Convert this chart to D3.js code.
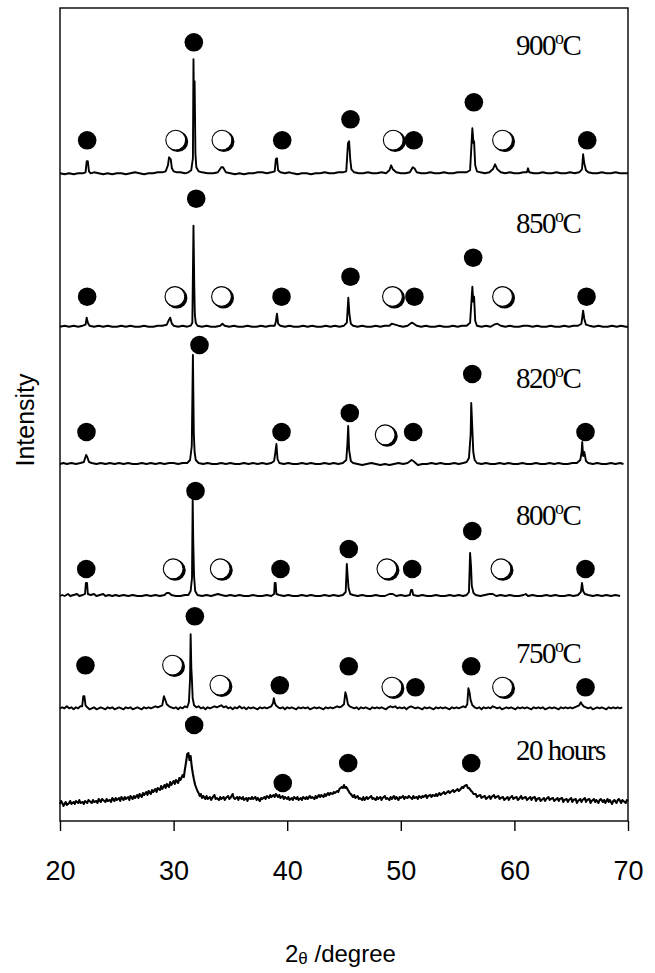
<!DOCTYPE html>
<html>
<head>
<meta charset="utf-8">
<script src="https://cdn.jsdelivr.net/npm/d3@7"></script>
<style>
  html, body { margin: 0; padding: 0; background: #fff; }
  svg { display: block; }
</style>
</head>
<body>
<svg id="chart" width="655" height="973"></svg>
<script>
// XRD patterns, intensity in arbitrary units above each pattern's baseline
const scan900 = [[20,0],[20.4,-1],[20.8,0],[21.2,-1],[21.6,0],[22.0,0],[22.25,1],[22.35,12],[22.45,12],[22.55,2],[22.7,0],[23.0,1],[23.4,0],[23.8,-1],[24.2,0],[24.6,-1],[25.0,0],[25.4,0],[25.8,-1],[26.2,0],[26.6,1],[27.0,0],[27.4,-1],[27.8,0],[28.2,0],[28.6,1],[29.0,1],[29.3,2],[29.5,8],[29.6,16],[29.75,14],[29.85,5],[30.0,2],[30.3,1],[30.6,1],[31.0,0],[31.3,1],[31.55,3],[31.7,15],[31.75,114],[31.8,60],[31.85,92],[31.92,20],[32.0,6],[32.2,2],[32.5,1],[33.0,0],[33.5,0],[33.9,1],[34.2,6],[34.35,6],[34.6,1],[35.0,0],[35.4,-1],[35.8,0],[36.2,-1],[36.6,0],[37.0,0],[37.4,1],[37.8,1],[38.2,0],[38.6,1],[38.9,2],[39.0,14],[39.1,15],[39.2,3],[39.4,1],[39.8,0],[40.2,1],[40.5,0],[40.9,-1],[41.3,0],[41.7,0],[42.1,-1],[42.5,0],[42.9,0],[43.3,1],[43.7,0],[44.1,0],[44.5,1],[44.9,1],[45.2,2],[45.35,30],[45.45,32],[45.55,14],[45.65,4],[45.9,1],[46.3,0],[46.7,0],[47.1,1],[47.5,0],[47.9,0],[48.3,1],[48.7,0],[49.0,3],[49.15,8],[49.3,4],[49.6,1],[50.0,0],[50.4,0],[50.8,1],[51.05,6],[51.2,5],[51.4,1],[51.8,0],[52.2,0],[52.6,1],[53.0,0],[53.4,0],[53.8,1],[54.2,0],[54.6,0],[55.0,1],[55.4,1],[55.8,1],[56.1,3],[56.3,45],[56.4,30],[56.45,32],[56.55,8],[56.7,2],[57.0,1],[57.4,0],[57.8,1],[58.1,4],[58.3,9],[58.5,4],[58.8,1],[59.2,0],[59.6,1],[60.0,0],[60.4,0],[60.8,1],[61.1,1],[61.2,5],[61.3,1],[61.7,0],[62.1,0],[62.5,1],[62.9,0],[63.3,0],[63.7,1],[64.1,0],[64.5,0],[64.9,1],[65.3,0],[65.7,1],[65.95,4],[66.05,19],[66.15,10],[66.3,3],[66.5,1],[66.9,0],[67.3,0],[67.7,1],[68.1,0],[68.5,0],[68.9,1],[69.3,0],[69.7,0],[70,0]];

const scan850 = [[20,0],[20.4,1],[20.8,0],[21.2,1],[21.6,0],[22.0,1],[22.25,2],[22.35,9],[22.45,4],[22.6,1],[23.0,0],[23.4,1],[23.8,0],[24.2,1],[24.6,0],[25.0,0],[25.4,1],[25.8,0],[26.2,1],[26.6,0],[27.0,0],[27.4,1],[27.8,0],[28.2,0],[28.6,1],[29.0,1],[29.4,2],[29.6,7],[29.7,9],[29.85,3],[30.0,1],[30.4,0],[30.8,1],[31.2,0],[31.5,1],[31.65,4],[31.75,101],[31.82,40],[31.87,12],[31.95,4],[32.1,1],[32.5,0],[32.9,1],[33.3,0],[33.7,0],[34.1,1],[34.3,3],[34.5,1],[34.9,0],[35.3,1],[35.7,0],[36.1,0],[36.5,1],[36.9,0],[37.3,0],[37.7,1],[38.1,0],[38.5,1],[38.9,1],[39.0,5],[39.1,13],[39.2,3],[39.4,1],[39.8,0],[40.2,1],[40.6,0],[41.0,0],[41.4,1],[41.8,0],[42.2,1],[42.6,0],[43.0,0],[43.4,1],[43.8,0],[44.2,1],[44.6,0],[45.0,1],[45.25,4],[45.38,29],[45.48,12],[45.6,3],[45.8,1],[46.2,0],[46.6,1],[47.0,0],[47.4,0],[47.8,1],[48.2,0],[48.6,1],[49.0,1],[49.2,3],[49.5,2],[49.8,1],[50.2,0],[50.6,1],[50.95,4],[51.15,3],[51.4,1],[51.8,0],[52.2,1],[52.6,0],[53.0,0],[53.4,1],[53.8,0],[54.2,0],[54.6,1],[55.0,0],[55.4,1],[55.8,1],[56.1,4],[56.3,40],[56.38,25],[56.45,30],[56.55,6],[56.7,1],[57.1,0],[57.5,1],[57.9,0],[58.2,2],[58.5,3],[58.8,1],[59.2,0],[59.6,1],[60.0,0],[60.4,0],[60.8,1],[61.2,1],[61.6,0],[62.0,1],[62.4,0],[62.8,0],[63.2,1],[63.6,0],[64.0,0],[64.4,1],[64.8,0],[65.2,1],[65.6,1],[65.9,3],[66.05,16],[66.15,8],[66.3,2],[66.6,1],[67.0,0],[67.4,1],[67.8,0],[68.2,0],[68.6,1],[69.0,0],[69.4,1],[69.8,0],[70,0]];

const scan820 = [[20,0],[20.3,1],[20.6,0],[21.0,1],[21.4,0],[21.8,1],[22.1,2],[22.3,9],[22.4,7],[22.55,2],[22.8,1],[23.2,0],[23.6,1],[24.0,0],[24.4,1],[24.8,0],[25.2,1],[25.6,0],[26.0,1],[26.4,0],[26.8,0],[27.2,1],[27.6,0],[28.0,1],[28.4,0],[28.8,1],[29.2,0],[29.6,1],[30.0,1],[30.4,0],[30.8,1],[31.2,1],[31.45,4],[31.6,18],[31.7,109],[31.78,30],[31.85,12],[31.95,4],[32.2,1],[32.6,0],[33.0,1],[33.4,0],[33.8,0],[34.2,1],[34.6,0],[35.0,1],[35.4,0],[35.8,0],[36.2,1],[36.6,0],[37.0,1],[37.4,0],[37.8,1],[38.2,0],[38.6,1],[38.85,3],[38.95,11],[39.05,20],[39.15,5],[39.3,1],[39.7,0],[40.1,1],[40.5,0],[40.9,0],[41.3,1],[41.7,0],[42.1,1],[42.5,0],[42.9,0],[43.3,1],[43.7,0],[44.1,1],[44.5,0],[44.9,1],[45.2,4],[45.3,20],[45.37,38],[45.45,14],[45.6,3],[45.8,1],[46.2,0],[46.6,-1],[47.0,0],[47.4,1],[47.8,0],[48.2,-1],[48.6,0],[49.0,-1],[49.4,0],[49.8,1],[50.2,0],[50.6,1],[50.95,4],[51.1,3],[51.3,1],[51.5,-1],[51.9,0],[52.3,0],[52.7,1],[53.1,0],[53.5,1],[53.9,0],[54.3,0],[54.7,1],[55.1,0],[55.5,1],[55.8,2],[56.0,6],[56.15,30],[56.2,61],[56.28,40],[56.38,12],[56.5,4],[56.7,1],[57.1,0],[57.5,1],[57.9,0],[58.3,0],[58.7,1],[59.1,0],[59.5,1],[59.9,0],[60.3,0],[60.7,1],[61.1,0],[61.5,0],[61.9,1],[62.3,0],[62.7,0],[63.1,1],[63.5,0],[63.9,1],[64.3,0],[64.7,0],[65.1,1],[65.5,1],[65.8,4],[65.92,12],[65.97,22],[66.05,8],[66.15,12],[66.3,3],[66.5,1],[66.9,0],[67.3,1],[67.7,0],[68.1,0],[68.5,1],[68.9,0],[69.3,1],[69.6,0]];

const scan800 = [[20,0],[20.2,1],[20.4,0],[20.7,2],[20.9,0],[21.2,1],[21.5,2],[21.7,0],[22.0,1],[22.2,2],[22.28,13],[22.38,13],[22.45,2],[22.7,1],[23.0,2],[23.2,0],[23.5,1],[23.8,2],[24.0,0],[24.3,1],[24.6,0],[24.9,1],[25.2,0],[25.6,1],[26.0,0],[26.4,1],[26.8,0],[27.2,0],[27.6,1],[28.0,0],[28.4,1],[28.8,0],[29.2,1],[29.4,3],[29.6,3],[29.8,1],[30.2,0],[30.6,0],[31.0,1],[31.3,1],[31.5,5],[31.62,18],[31.68,97],[31.73,54],[31.8,20],[31.9,5],[32.1,1],[32.5,0],[32.9,1],[33.3,0],[33.6,1],[33.9,2],[34.2,1],[34.6,0],[35.0,1],[35.4,0],[35.8,1],[36.2,0],[36.6,0],[37.0,1],[37.4,0],[37.8,0],[38.2,1],[38.6,0],[38.85,2],[38.9,13],[38.98,13],[39.05,2],[39.3,1],[39.7,0],[40.1,1],[40.5,0],[40.9,0],[41.3,1],[41.7,0],[42.1,1],[42.5,0],[42.9,0],[43.3,1],[43.7,0],[44.1,1],[44.5,0],[44.9,1],[45.15,4],[45.25,32],[45.32,20],[45.4,8],[45.55,2],[45.8,1],[46.2,0],[46.6,1],[47.0,0],[47.4,0],[47.8,1],[48.2,0],[48.6,0],[49.0,2],[49.3,2],[49.6,0],[50.0,1],[50.4,0],[50.8,1],[50.9,6],[51.0,6],[51.1,1],[51.5,0],[51.9,1],[52.3,0],[52.7,0],[53.1,1],[53.5,0],[53.9,0],[54.3,1],[54.7,0],[55.1,1],[55.5,0],[55.8,1],[56.0,4],[56.1,43],[56.18,30],[56.25,10],[56.4,3],[56.6,1],[57.0,0],[57.4,1],[57.8,2],[58.1,2],[58.4,0],[58.8,1],[59.2,0],[59.6,1],[60.0,0],[60.4,0],[60.8,1],[61.0,2],[61.2,0],[61.6,1],[62.0,0],[62.4,0],[62.8,1],[63.2,0],[63.6,1],[64.0,0],[64.4,0],[64.8,1],[65.2,0],[65.6,1],[65.85,4],[65.95,13],[66.05,5],[66.2,2],[66.5,1],[66.9,0],[67.3,1],[67.7,0],[68.1,1],[68.5,0],[68.9,1],[69.3,0]];

const scan750 = [[20,0],[20.2,1],[20.4,0],[20.6,2],[20.8,0],[21.0,1],[21.2,-1],[21.4,1],[21.6,0],[21.8,2],[21.95,2],[22.05,12],[22.15,12],[22.25,3],[22.4,1],[22.6,-1],[22.8,0],[23.0,1],[23.2,-1],[23.4,0],[23.6,1],[23.8,0],[24.0,-1],[24.2,1],[24.4,0],[24.6,1],[24.8,-1],[25.0,0],[25.2,1],[25.4,0],[25.6,-1],[25.8,1],[26.0,0],[26.2,1],[26.4,-1],[26.6,0],[26.8,1],[27.0,0],[27.2,-1],[27.4,1],[27.6,0],[27.8,1],[28.0,0],[28.2,1],[28.4,2],[28.6,1],[28.8,2],[29.0,3],[29.15,12],[29.25,9],[29.4,4],[29.6,2],[29.8,1],[30.0,0],[30.2,1],[30.4,-1],[30.6,1],[30.8,0],[31.0,2],[31.2,1],[31.35,6],[31.45,30],[31.5,74],[31.56,40],[31.6,32],[31.68,10],[31.8,3],[32.0,1],[32.2,2],[32.4,0],[32.6,1],[32.8,-1],[33.0,1],[33.2,0],[33.4,1],[33.6,2],[33.8,1],[34.0,2],[34.2,3],[34.4,1],[34.6,2],[34.8,0],[35.0,1],[35.2,-1],[35.4,1],[35.6,0],[35.8,2],[36.0,0],[36.2,1],[36.4,-1],[36.6,1],[36.8,0],[37.0,1],[37.2,0],[37.4,-1],[37.6,1],[37.8,0],[38.0,1],[38.2,0],[38.4,1],[38.6,2],[38.75,5],[38.82,10],[38.9,6],[39.0,3],[39.2,1],[39.4,0],[39.6,1],[39.8,-1],[40.0,1],[40.2,0],[40.4,1],[40.6,0],[40.8,-1],[41.0,1],[41.2,0],[41.4,1],[41.6,0],[41.8,1],[42.0,-1],[42.2,0],[42.4,1],[42.6,0],[42.8,1],[43.0,0],[43.2,-1],[43.4,1],[43.6,0],[43.8,1],[44.0,0],[44.2,1],[44.4,2],[44.6,1],[44.8,2],[45.0,4],[45.12,16],[45.22,12],[45.35,4],[45.5,2],[45.7,1],[45.9,0],[46.1,1],[46.3,-1],[46.5,1],[46.7,0],[46.9,1],[47.1,0],[47.3,-1],[47.5,1],[47.7,0],[47.9,1],[48.1,0],[48.3,1],[48.5,0],[48.7,-1],[48.9,1],[49.1,2],[49.3,1],[49.5,2],[49.7,0],[49.9,1],[50.1,0],[50.3,1],[50.5,-1],[50.7,1],[50.9,2],[51.1,1],[51.3,0],[51.5,1],[51.7,0],[51.9,-1],[52.1,1],[52.3,0],[52.5,1],[52.7,0],[52.9,-1],[53.1,1],[53.3,0],[53.5,1],[53.7,0],[53.9,1],[54.1,0],[54.3,-1],[54.5,1],[54.7,0],[54.9,1],[55.1,0],[55.3,1],[55.5,2],[55.7,1],[55.85,4],[55.95,20],[56.05,16],[56.15,8],[56.3,3],[56.5,1],[56.7,0],[56.9,1],[57.1,-1],[57.3,1],[57.5,0],[57.7,1],[57.9,0],[58.1,2],[58.3,1],[58.5,0],[58.7,1],[58.9,-1],[59.1,0],[59.3,1],[59.5,0],[59.7,1],[59.9,0],[60.1,-1],[60.3,1],[60.5,0],[60.7,1],[60.9,0],[61.1,1],[61.3,0],[61.5,-1],[61.7,1],[61.9,0],[62.1,1],[62.3,0],[62.5,1],[62.7,-1],[62.9,0],[63.1,1],[63.3,0],[63.5,1],[63.7,0],[63.9,-1],[64.1,1],[64.3,0],[64.5,1],[64.7,0],[64.9,1],[65.1,0],[65.3,1],[65.5,2],[65.7,3],[65.85,6],[65.95,4],[66.1,2],[66.3,1],[66.5,0],[66.7,1],[66.9,-1],[67.1,0],[67.3,1],[67.5,0],[67.7,1],[67.9,0],[68.1,-1],[68.3,1],[68.5,0],[68.7,1],[68.9,0],[69.1,1],[69.3,0],[69.5,1]];

const scan20h = [[20.0,-4],[20.1,-1],[20.2,-3],[20.3,-6],[20.4,-4],[20.5,-2],[20.6,-5],[20.8,-3],[20.9,-1],[21.0,-4],[21.2,-2],[21.3,-4],[21.4,-1],[21.6,-3],[21.7,0],[21.8,-3],[22.0,-2],[22.1,-4],[22.2,-1],[22.4,-3],[22.5,0],[22.6,-1],[22.8,-3],[22.9,0],[23.0,-2],[23.2,-1],[23.3,-3],[23.4,1],[23.6,-2],[23.7,1],[23.8,0],[24.0,-2],[24.1,1],[24.2,-1],[24.4,0],[24.5,-2],[24.6,2],[24.8,-1],[24.9,2],[25.0,0],[25.2,2],[25.3,-1],[25.4,3],[25.6,0],[25.7,3],[25.8,1],[26.0,3],[26.1,0],[26.2,4],[26.4,1],[26.5,4],[26.6,2],[26.8,5],[26.9,2],[27.0,6],[27.2,3],[27.3,7],[27.4,5],[27.6,8],[27.7,5],[27.8,9],[28.0,6],[28.1,10],[28.2,8],[28.4,11],[28.5,8],[28.6,12],[28.8,10],[28.9,14],[29.0,11],[29.2,15],[29.3,12],[29.4,16],[29.6,13],[29.7,18],[29.8,15],[30.0,19],[30.1,16],[30.2,20],[30.4,17],[30.5,22],[30.6,20],[30.8,25],[30.9,23],[31.0,31],[31.1,38],[31.2,46],[31.3,47],[31.4,40],[31.5,44],[31.6,33],[31.7,26],[31.8,20],[31.9,15],[32.0,12],[32.1,9],[32.2,7],[32.3,4],[32.4,6],[32.5,2],[32.6,4],[32.8,1],[32.9,4],[33.0,1],[33.2,3],[33.3,0],[33.4,2],[33.6,5],[33.7,1],[33.8,2],[34.0,0],[34.1,3],[34.2,1],[34.4,3],[34.5,0],[34.6,2],[34.8,4],[34.9,1],[35.0,2],[35.2,6],[35.3,2],[35.4,1],[35.6,3],[35.7,0],[35.8,3],[36.0,1],[36.1,3],[36.2,0],[36.4,2],[36.5,-1],[36.6,2],[36.8,1],[36.9,3],[37.0,1],[37.2,3],[37.3,0],[37.4,2],[37.6,-1],[37.7,2],[37.8,1],[38.0,3],[38.1,1],[38.2,4],[38.4,2],[38.5,5],[38.6,3],[38.8,5],[38.9,3],[39.0,6],[39.2,3],[39.3,5],[39.4,2],[39.6,4],[39.7,1],[39.8,3],[40.0,1],[40.1,3],[40.2,0],[40.4,2],[40.5,0],[40.6,3],[40.8,1],[40.9,3],[41.0,0],[41.2,2],[41.3,0],[41.4,3],[41.6,1],[41.7,3],[41.8,1],[42.0,4],[42.1,2],[42.2,3],[42.4,1],[42.5,4],[42.6,2],[42.8,5],[42.9,3],[43.0,5],[43.2,3],[43.3,6],[43.4,4],[43.6,7],[43.7,5],[43.8,7],[44.0,6],[44.1,8],[44.2,7],[44.4,9],[44.5,8],[44.6,11],[44.8,13],[44.9,12],[45.0,15],[45.1,12],[45.2,13],[45.4,9],[45.5,7],[45.6,6],[45.8,3],[45.9,5],[46.0,2],[46.2,4],[46.3,1],[46.4,2],[46.6,0],[46.7,3],[46.8,0],[47.0,3],[47.1,1],[47.2,2],[47.4,4],[47.5,1],[47.6,2],[47.8,0],[47.9,3],[48.0,1],[48.2,3],[48.3,0],[48.4,2],[48.6,4],[48.7,1],[48.8,2],[49.0,0],[49.1,3],[49.2,1],[49.4,4],[49.5,1],[49.6,3],[49.8,0],[49.9,3],[50.0,2],[50.2,4],[50.3,1],[50.4,3],[50.6,2],[50.7,4],[50.8,3],[51.0,1],[51.1,4],[51.2,2],[51.4,3],[51.5,1],[51.6,4],[51.8,2],[51.9,4],[52.0,3],[52.2,5],[52.3,2],[52.4,4],[52.6,5],[52.7,3],[52.8,5],[53.0,4],[53.1,6],[53.2,4],[53.4,7],[53.5,5],[53.6,6],[53.8,8],[53.9,6],[54.0,7],[54.2,9],[54.3,7],[54.4,8],[54.6,10],[54.7,8],[54.8,9],[55.0,11],[55.1,9],[55.2,10],[55.4,13],[55.5,12],[55.6,14],[55.8,15],[55.9,12],[56.0,12],[56.2,9],[56.3,8],[56.4,6],[56.6,6],[56.7,3],[56.8,4],[57.0,5],[57.1,2],[57.2,3],[57.4,4],[57.5,1],[57.6,2],[57.8,4],[57.9,1],[58.0,3],[58.2,5],[58.3,2],[58.4,3],[58.6,4],[58.7,1],[58.8,2],[59.0,3],[59.1,0],[59.2,1],[59.4,3],[59.5,0],[59.6,2],[59.8,4],[59.9,1],[60.0,2],[60.2,3],[60.3,0],[60.4,1],[60.6,4],[60.7,1],[60.8,2],[61.0,3],[61.1,0],[61.2,1],[61.4,3],[61.5,0],[61.6,2],[61.8,3],[61.9,-1],[62.0,1],[62.2,2],[62.3,-1],[62.4,0],[62.6,2],[62.7,-1],[62.8,1],[63.0,3],[63.1,0],[63.2,1],[63.4,2],[63.5,-1],[63.6,0],[63.8,2],[63.9,-1],[64.0,1],[64.2,2],[64.3,-2],[64.4,0],[64.6,1],[64.7,-2],[64.8,0],[65.0,2],[65.1,-2],[65.2,0],[65.4,1],[65.5,-3],[65.6,-1],[65.8,1],[65.9,-2],[66.0,0],[66.2,2],[66.3,-2],[66.4,0],[66.6,1],[66.7,-3],[66.8,-1],[67.0,1],[67.1,-2],[67.2,0],[67.4,-3],[67.5,0],[67.6,1],[67.8,-2],[67.9,0],[68.0,-3],[68.2,1],[68.3,-2],[68.4,0],[68.6,-4],[68.7,-1],[68.8,0],[69.0,-3],[69.1,0],[69.2,1],[69.4,-3],[69.5,0],[69.6,-1],[69.8,-3],[69.9,0],[70.0,-1]];

// Phase markers: [2θ, height above baseline, phase] ("f" = filled ●, "o" = open ○)
const marks900 = [[22.39,33,"f"],[30.3,33,"o"],[31.78,131,"f"],[34.37,33,"o"],[39.56,33,"f"],[45.57,54,"f"],[49.45,33,"o"],[51.14,33,"f"],[56.43,71,"f"],[59.07,33,"o"],[66.41,33,"f"]];
const marks850 = [[22.39,30,"f"],[30.23,30,"o"],[31.99,128,"f"],[34.33,30,"o"],[39.5,30,"f"],[45.57,50,"f"],[49.38,30,"o"],[51.2,30,"f"],[56.37,69,"f"],[59.07,30,"o"],[66.35,30,"f"]];
const marks820 = [[22.33,32,"f"],[32.28,119,"f"],[39.5,32,"f"],[45.51,51,"f"],[48.74,29,"o"],[51.09,32,"f"],[56.29,90,"f"],[66.26,32,"f"]];
const marks800 = [[22.31,27,"f"],[30.08,27,"o"],[31.93,105,"f"],[34.22,27,"o"],[39.41,27,"f"],[45.42,47,"f"],[48.89,27,"o"],[51.0,27,"f"],[56.29,65,"f"],[58.93,27,"o"],[66.26,27,"f"]];
const marks750 = [[22.24,43,"f"],[30.02,43,"o"],[31.87,92,"f"],[34.19,23,"o"],[39.35,23,"f"],[45.42,42,"f"],[49.33,21,"o"],[51.29,21,"f"],[56.2,42,"f"],[59.07,21,"o"],[66.26,21,"f"]];
const marks20h = [[31.81,75,"f"],[39.61,17,"f"],[45.37,37,"f"],[56.2,37,"f"]];

// Sample labels (temperature or milling time), superscript part separate
const labelMain = ["900", "850", "820", "800", "750", "20 hours"];
const labelSup  = ["o", "o", "o", "o", "o", ""];
const labelTail = ["C", "C", "C", "C", "C", ""];

const xTicks = [20, 30, 40, 50, 60, 70];

// ---- layout ----
const svg = d3.select("#chart");
const plotLeft = 60, plotRight = 628, plotTop = 8, plotBottom = 821;

const x = d3.scaleLinear().domain([20, 70]).range([plotLeft, plotRight]);
const y = d3.scaleLinear().domain([0, plotBottom - plotTop]).range([plotBottom, plotTop]);

// vertical offset of each pattern in the stack
const offsets = [647.7, 494.3, 357, 225, 112.7, 21];
const labelBaselines = [55, 233, 388, 525, 663, 760];
const scans = [scan900, scan850, scan820, scan800, scan750, scan20h];
const marks = [marks900, marks850, marks820, marks800, marks750, marks20h];

// frame
svg.append("rect")
  .attr("x", plotLeft).attr("y", plotTop)
  .attr("width", plotRight - plotLeft).attr("height", plotBottom - plotTop)
  .attr("fill", "none").attr("stroke", "#000").attr("stroke-width", 1.4);

// bottom axis
const axis = svg.append("g")
  .attr("transform", `translate(0,${plotBottom})`)
  .call(d3.axisBottom(x).tickValues(xTicks).tickSize(10).tickSizeOuter(0).tickPadding(30).tickFormat(d3.format("d")));
axis.select(".domain").remove();
axis.selectAll(".tick line").attr("stroke", "#000").attr("stroke-width", 1.4);
axis.selectAll(".tick text")
  .attr("font-family", "Arial, 'Liberation Sans', sans-serif")
  .attr("font-size", 27).attr("fill", "#000");

// patterns
const line = d3.line().curve(d3.curveLinear);
scans.forEach((scan, i) => {
  svg.append("path")
    .attr("d", line(scan.map(d => [x(d[0]), y(offsets[i] + d[1])])))
    .attr("fill", "none")
    .attr("stroke", "#000")
    .attr("stroke-width", i === 5 ? 2.1 : 1.9)
    .attr("stroke-linejoin", "round");
});

// phase markers
marks.forEach((set, i) => {
  const g = svg.append("g");
  set.forEach(m => {
    const cx = x(m[0]), cy = y(offsets[i] + m[1]);
    if (m[2] === "f") {
      g.append("circle").attr("cx", cx).attr("cy", cy).attr("r", 9.3).attr("fill", "#000");
    } else {
      g.append("circle").attr("cx", cx + 0.6).attr("cy", cy + 1.2).attr("r", 10.6).attr("fill", "#000");
      g.append("circle").attr("cx", cx - 1.3).attr("cy", cy - 0.2).attr("r", 9.9)
        .attr("fill", "#fff").attr("stroke", "#000").attr("stroke-width", 1.1);
    }
  });
});

// sample labels
labelMain.forEach((t, i) => {
  const txt = svg.append("text")
    .attr("x", 516).attr("y", labelBaselines[i])
    .attr("font-family", "'Times New Roman', 'Liberation Serif', serif")
    .attr("font-size", 29).attr("letter-spacing", -1.5).attr("fill", "#000");
  txt.append("tspan").text(t);
  if (labelSup[i]) {
    txt.append("tspan").attr("font-size", 18).attr("dy", -11).text(labelSup[i]);
    txt.append("tspan").attr("dy", 11).text(labelTail[i]);
  }
});

// axis titles
svg.append("text")
  .attr("transform", "translate(34,420) rotate(-90)")
  .attr("text-anchor", "middle")
  .attr("font-family", "Arial, 'Liberation Sans', sans-serif")
  .attr("font-size", 25).attr("fill", "#000")
  .text("Intensity");

const xt = svg.append("text")
  .attr("x", 285).attr("y", 962)
  .attr("font-family", "Arial, 'Liberation Sans', sans-serif")
  .attr("font-size", 24).attr("fill", "#000");
xt.append("tspan").text("2");
xt.append("tspan").attr("font-size", 17).attr("dy", 2).text("θ");
xt.append("tspan").attr("dy", -2).text(" /degree");
</script>
</body>
</html>
